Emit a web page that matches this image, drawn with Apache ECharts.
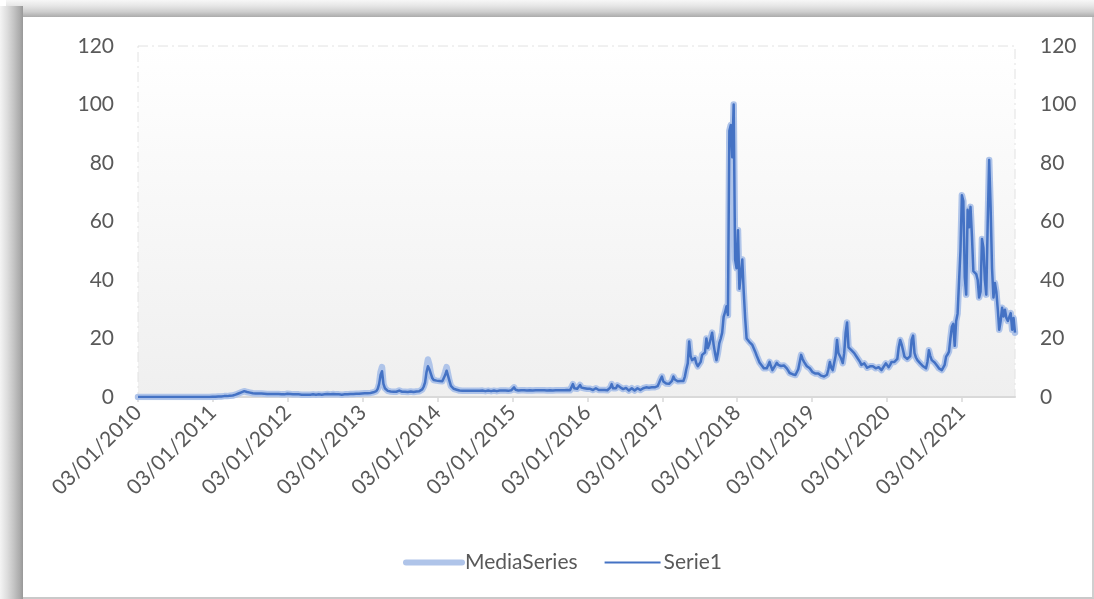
<!DOCTYPE html>
<html>
<head>
<meta charset="utf-8">
<title>Serie1 / MediaSeries</title>
<script src="https://cdn.jsdelivr.net/npm/echarts@6/dist/echarts.min.js"></script>
<style>
  html, body { margin: 0; padding: 0; background: #ffffff; width: 1094px; height: 599px; overflow: hidden; }
  .shade { position: absolute; }
  #shadeTop {
    left: 6px; top: 0; width: 1088px; height: 17px;
    background: linear-gradient(to bottom, #f7f7f7 0, #e6e6e6 35%, #cdcdcd 70%, #ababab 100%);
  }
  #shadeLeft {
    left: 0; top: 6px; width: 23px; height: 593px;
    background: linear-gradient(to right, #f4f4f4 0, #dedede 30%, #c4c4c4 60%, #acacac 85%, #989898 100%);
  }
  #box {
    position: absolute; left: 23px; top: 17px; width: 1069px; height: 580px;
    background: #ffffff;
    border-right: 2px solid #cfcfcf; border-bottom: 2px solid #c9c9c9;
  }
  #chart { position: absolute; left: 0; top: 0; width: 1094px; height: 599px; }
</style>
</head>
<body>
<div id="shadeTop" class="shade"></div>
<div id="shadeLeft" class="shade"></div>
<div id="box"></div>
<div id="chart"></div>
<script>
// Weekly samples, first week starting Sunday 03/01/2010
const firstWeek = '2010-01-03';

// Serie1, one block of 52 weeks per year
const s2010 = [0,0,0,0,0,0,0,0,0,0, 0,0,0,0,0,0,0,0,0,0, 0,0,0,0,0,0,0,0,0,0,
  0,0,0,0,0,0,0,0,0,0, 0,0,0,0,0,0,0,0,0,0, 0,0];
const s2011 = [0.1,0.1,0.1,0.2,0.2,0.2,0.2,0.3,0.3,0.3, 0.3,0.4,0.4,0.5,0.5,0.6,0.8,1.0,1.2,1.4,
  1.6,1.8,2.0,1.9,1.7,1.6,1.5,1.4,1.3,1.3, 1.2,1.2,1.2,1.1,1.2,1.1,1.1,1.1,1.0,1.1,
  1.0,1.0,1.0,1.0,1.0,0.9,1.0,0.9,0.9,0.9, 0.9,0.9];
const s2012 = [1.1,1.0,1.0,1.0,0.9,0.9,0.9,0.9,0.9,0.8, 0.8,0.9,0.8,0.8,0.8,0.8,0.8,0.8,0.9,0.8,
  0.8,0.8,0.9,0.9,0.8,0.9,0.9,0.9,1.0,0.9, 0.9,0.9,1.0,0.9,0.9,0.9,0.9,0.8,0.8,0.8,
  0.9,0.9,0.9,0.9,1.0,1.0,1.0,1.0,1.1,1.1, 1.1,1.2];
const s2013 = [1.2,1.2,1.3,1.3,1.3,1.4,1.4,1.5,1.6,1.7, 2.0,2.8,4.5,7.5,8.8,4.5,3.0,2.4,2.1,1.9,
  1.9,1.8,1.8,1.7,1.8,1.9,2.2,1.9,1.8,1.7, 1.8,1.7,1.7,1.8,1.9,1.8,1.7,1.8,1.9,1.9,
  2.0,2.2,2.6,3.5,5.0,8.5,10.5,9.5,8.0,6.5, 5.8,5.5];
const s2014 = [5.6,5.8,5.5,5.6,5.4,6.0,7.5,9.0,8.5,5.5, 3.8,3.2,2.8,2.6,2.5,2.3,2.2,2.3,2.1,2.2,
  2.1,2.2,2.1,2.0,2.1,2.2,2.1,2.0,2.1,2.2, 2.1,2.0,2.2,2.1,2.0,2.1,2.2,2.1,2.0,2.1,
  2.2,2.1,2.0,2.1,2.2,2.1,2.2,2.1,2.2,2.2, 2.1,2.2];
const s2015 = [2.3,2.9,3.3,2.5,2.3,2.2,2.3,2.3,2.2,2.3, 2.3,2.2,2.3,2.3,2.3,2.2,2.3,2.3,2.2,2.3,
  2.3,2.3,2.2,2.3,2.3,2.2,2.3,2.3,2.3,2.2, 2.3,2.3,2.2,2.3,2.3,2.3,2.2,2.3,2.3,2.4,
  2.4,2.3,2.5,4.4,3.0,2.4,2.8,3.4,4.1,3.2, 2.6,3.0];
const s2016 = [3.3,2.8,2.4,2.8,3.1,2.4,2.3,3.0,2.6,2.4, 2.4,2.4,2.3,2.4,2.4,2.3,2.5,3.2,4.4,3.0,
  2.4,3.0,4.0,3.6,3.3,3.0,2.7,2.9,3.1,2.6, 2.2,2.6,3.0,2.4,2.2,2.7,3.0,2.6,2.4,2.7,
  3.0,3.2,3.3,3.3,3.2,3.3,3.3,3.4,3.3,3.5, 3.7,4.8];
const s2017 = [6.0,7.0,5.3,4.8,4.6,4.4,4.5,5.0,5.5,7.0, 6.0,5.5,5.4,5.5,5.5,5.5,5.5,7.0,9.5,11.5,
  19.0,14.0,12.6,12.8,13.3,11.5,10.5,10.0,12.0,14.4, 14.5,15.2,20.0,16.7,18.0,20.0,22.0,18.0,15.0,12.6,
  15.0,18.4,20.0,22.0,27.4,29.0,31.0,28.0,91.0,93.0, 82.0,100];
const s2018 = [47,44,57,37,42,47,36,27,20,19.5, 18.8,18.4,17.8,17.2,15.5,14.2,13,11.8,12,10.5,
  9.8,10.2,9.8,10.8,12,10.5,9.2,9.8,10.8,11.7, 11,10.4,10.6,11,10.8,10.2,9.8,9,8.2,8,
  7.8,7.6,7.5,7.8,9.5,12,14.4,13,12,11.5, 10.5,10.2];
const s2019 = [9.8,9.2,8.5,8.1,8.0,7.8,8.0,7.7,7.3,7.2, 7.0,7.3,7.6,9.5,12,10,9.2,9.6,14,19.5,
  15,14,13,11.6,15,22,25.5,17,16.5,16, 15.5,15,14.4,13.5,13,12,11,11,11.5,12,
  10,9.4,10.5,11,10.5,10,9.8,10,10.2,9.6, 9.2,10];
const s2020 = [10.5,11.5,11,10.2,11,12,12.6,12,11.6,13, 17,19.5,18,16,13.8,13.2,13,12.6,14,19.5,
  21,15,13.5,12.6,12,11.5,11,10.5,10,9.8, 12,16,14,12.6,12,11.8,11.6,10.5,9.8,9.5,
  9.2,9,11,13.8,14.5,15.5,20,24,25,17.5, 26,28.5];
const s2021 = [29,50,69,67,41,35,64,58,65,55, 43,43,42,40,34,36,54,51,40,35,
  60,81,65,44,34,39,36,30,23,26, 30.5,27.5,29.8,27,26,26.5,28.7,23,27,22];

// MediaSeries differs from Serie1 only around the 2013/2014 spikes
const m2013 = [1.2,1.2,1.3,1.3,1.3,1.4,1.4,1.5,1.6,1.7, 2.0,2.8,4.5,8.5,10.2,4.5,3.0,2.4,2.1,1.9,
  1.9,1.8,1.8,1.7,1.8,1.9,2.2,1.9,1.8,1.7, 1.8,1.7,1.7,1.8,1.9,1.8,1.7,1.8,1.9,1.9,
  2.0,2.2,2.6,3.5,5.0,10.0,12.8,11.0,8.0,6.5, 5.8,5.5];
const m2014 = [5.6,5.8,5.5,5.6,5.4,6.0,8.5,10.2,9.8,5.5, 3.8,3.2,2.8,2.6,2.5,2.3,2.2,2.3,2.1,2.2,
  2.1,2.2,2.1,2.0,2.1,2.2,2.1,2.0,2.1,2.2, 2.1,2.0,2.2,2.1,2.0,2.1,2.2,2.1,2.0,2.1,
  2.2,2.1,2.0,2.1,2.2,2.1,2.2,2.1,2.2,2.2, 2.1,2.2];

const serie1 = [].concat(s2010, s2011, s2012, s2013, s2014, s2015, s2016, s2017, s2018, s2019, s2020, s2021);
const mediaSeries = [].concat(s2010, s2011, s2012, m2013, m2014, s2015, s2016, s2017, s2018, s2019, s2020, s2021);

// Yearly tick labels on the date axis
const tickLabels = ['03/01/2010','03/01/2011','03/01/2012','03/01/2013','03/01/2014','03/01/2015',
  '03/01/2016','03/01/2017','03/01/2018','03/01/2019','03/01/2020','03/01/2021'];

function parseDMY(s) {
  const p = s.split('/');
  return Date.UTC(+p[2], +p[1] - 1, +p[0]);
}
const tickValues = tickLabels.map(parseDMY);
const DAY = 86400000;
const start = Date.parse(firstWeek + 'T00:00:00Z');
const weeks = serie1.map((_, i) => start + i * 7 * DAY);

const FONT = 'Lato';
const TEXT = '#595959';
const MEDIA_COLOR = '#afc4e9';
const SERIE_COLOR = '#4472c4';

function dateLabel(v) {
  let best = 0;
  for (let i = 1; i < tickValues.length; i++) {
    if (Math.abs(tickValues[i] - v) < Math.abs(tickValues[best] - v)) best = i;
  }
  return tickLabels[best];
}

const chart = echarts.init(document.getElementById('chart'), null, { renderer: 'canvas' });
chart.setOption({
  backgroundColor: 'transparent',
  animation: false,
  textStyle: { fontFamily: FONT },
  grid: {
    left: 138, right: 79, top: 46, bottom: 202,
    show: true,
    backgroundColor: new echarts.graphic.LinearGradient(0, 0, 0, 1, [
      { offset: 0, color: '#ffffff' },
      { offset: 1, color: '#efefef' }
    ]),
    borderColor: '#e2e2e2', borderWidth: 1, borderType: [10, 4, 2, 4]
  },
  legend: {
    left: 398, top: 547,
    itemWidth: 56, itemHeight: 20, itemGap: 26,
    itemStyle: { color: 'rgba(0,0,0,0)', borderColor: 'rgba(0,0,0,0)', borderWidth: 0, opacity: 0 },
    textStyle: { fontFamily: FONT, fontSize: 21, color: TEXT, padding: [0, 0, 0, -2] },
    data: [
      { name: 'MediaSeries', lineStyle: { color: MEDIA_COLOR, width: 6, cap: 'round' } },
      { name: 'Serie1', lineStyle: { color: SERIE_COLOR, width: 2 } }
    ]
  },
  xAxis: {
    type: 'value',
    min: weeks[0],
    max: weeks[weeks.length - 1],
    axisLine: { show: true, lineStyle: { color: '#d9d9d9', width: 2 } },
    axisTick: { show: true, customValues: tickValues, length: 5, lineStyle: { color: '#d9d9d9', width: 1.5 } },
    axisLabel: {
      customValues: tickValues,
      rotate: 45, margin: 12,
      fontFamily: FONT, fontSize: 21, color: TEXT,
      formatter: dateLabel
    },
    splitLine: { show: false }
  },
  yAxis: [
    {
      type: 'value', min: 0, max: 120, interval: 20, position: 'left',
      axisLine: { show: false }, axisTick: { show: false }, splitLine: { show: false },
      axisLabel: { margin: 24, fontFamily: FONT, fontSize: 21, color: TEXT }
    },
    {
      type: 'value', min: 0, max: 120, interval: 20, position: 'right',
      axisLine: { show: false }, axisTick: { show: false }, splitLine: { show: false },
      axisLabel: { margin: 25, fontFamily: FONT, fontSize: 21, color: TEXT }
    }
  ],
  series: [
    {
      name: 'MediaSeries', type: 'line', yAxisIndex: 1,
      data: weeks.map((t, i) => [t, mediaSeries[i]]),
      symbol: 'none', showSymbol: false, z: 2,
      itemStyle: { color: MEDIA_COLOR },
      lineStyle: { color: MEDIA_COLOR, width: 6.5, join: 'round', cap: 'round' }
    },
    {
      name: 'Serie1', type: 'line', yAxisIndex: 0,
      data: weeks.map((t, i) => [t, serie1[i]]),
      symbol: 'none', showSymbol: false, z: 3,
      itemStyle: { color: SERIE_COLOR },
      lineStyle: { color: SERIE_COLOR, width: 2.5, join: 'round' }
    }
  ]
});
</script>
</body>
</html>
